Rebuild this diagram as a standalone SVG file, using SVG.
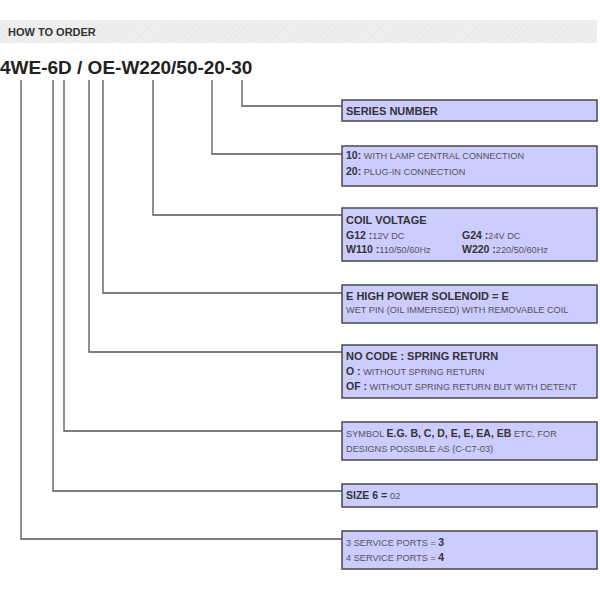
<svg xmlns="http://www.w3.org/2000/svg" width="600" height="600" viewBox="0 0 600 600">
<defs>
<pattern id="hatch" width="4" height="4" patternUnits="userSpaceOnUse" patternTransform="rotate(45)">
<rect width="4" height="4" fill="#efefef"/>
<line x1="0" y1="0" x2="0" y2="4" stroke="#e2e2e2" stroke-width="1"/>
</pattern>
</defs>
<style>
text{font-family:"Liberation Sans",Arial,sans-serif}
.box{fill:#ccccff;stroke:#4a4a4a;stroke-width:1.5}
.h{font-size:11px;font-weight:bold;fill:#333}
.b{font-weight:bold;fill:#333;font-size:10.5px}
.r{font-size:9.2px;fill:#555;font-weight:normal}
.conn{fill:none;stroke:#555;stroke-width:1.3}
</style>
<rect width="600" height="600" fill="#fff"/>
<g id="header">
<rect x="0" y="20" width="597" height="23" fill="url(#hatch)"/>
<text x="8" y="36" style="font-size:11px;font-weight:bold;fill:#333">HOW TO ORDER</text>
</g>
<g id="code">
<text x="0" y="74" style="font-size:19px;font-weight:bold;fill:#222">4WE-6D / OE-W220/50-20-30</text>
</g>
<g id="connectors" class="conn">
<path d="M242,80 V106 H342"/>
<path d="M212,80 V154 H342"/>
<path d="M153,80 V215 H342"/>
<path d="M103,80 V293 H342"/>
<path d="M89,80 V352 H342"/>
<path d="M64,80 V431 H342"/>
<path d="M53,80 V491 H342"/>
<path d="M21,80 V539 H342"/>
</g>
<g id="series">
<rect class="box" x="342" y="100" width="255" height="21"/>
<text class="h" x="346" y="115">SERIES NUMBER</text>
</g>
<g id="connection">
<rect class="box" x="342" y="146" width="255" height="40"/>
<text x="346" y="159"><tspan class="b">10:</tspan><tspan class="r"> WITH LAMP CENTRAL CONNECTION</tspan></text>
<text x="346" y="175"><tspan class="b">20:</tspan><tspan class="r"> PLUG-IN CONNECTION</tspan></text>
</g>
<g id="coil">
<rect class="box" x="342" y="208" width="255" height="53"/>
<text class="h" x="346" y="224">COIL VOLTAGE</text>
<text x="346" y="239"><tspan class="b">G12 :</tspan><tspan class="r">12V DC</tspan></text>
<text x="462" y="239"><tspan class="b">G24 :</tspan><tspan class="r">24V DC</tspan></text>
<text x="346" y="253"><tspan class="b">W110 :</tspan><tspan class="r">110/50/60Hz</tspan></text>
<text x="462" y="253"><tspan class="b">W220 :</tspan><tspan class="r">220/50/60Hz</tspan></text>
</g>
<g id="solenoid">
<rect class="box" x="342" y="285" width="255" height="38"/>
<text class="h" x="346" y="300">E HIGH POWER SOLENOID = E</text>
<text class="r" x="346" y="313">WET PIN (OIL IMMERSED) WITH REMOVABLE COIL</text>
</g>
<g id="spring">
<rect class="box" x="342" y="345" width="255" height="53"/>
<text class="h" x="346" y="360">NO CODE : SPRING RETURN</text>
<text x="346" y="375"><tspan class="b">O :</tspan><tspan class="r"> WITHOUT SPRING RETURN</tspan></text>
<text x="346" y="390"><tspan class="b">OF :</tspan><tspan class="r"> WITHOUT SPRING RETURN BUT WITH DETENT</tspan></text>
</g>
<g id="symbol">
<rect class="box" x="342" y="422" width="255" height="38"/>
<text x="346" y="437"><tspan class="r">SYMBOL </tspan><tspan class="b">E.G. B, C, D, E, E, EA, EB</tspan><tspan class="r"> ETC, FOR</tspan></text>
<text class="r" x="346" y="452">DESIGNS POSSIBLE AS (C-C7-03)</text>
</g>
<g id="size">
<rect class="box" x="342" y="484" width="255" height="23"/>
<text x="346" y="499"><tspan class="b">SIZE 6 = </tspan><tspan class="r">02</tspan></text>
</g>
<g id="ports">
<rect class="box" x="342" y="531" width="255" height="38"/>
<text x="346" y="546"><tspan class="r">3 SERVICE PORTS = </tspan><tspan class="b">3</tspan></text>
<text x="346" y="561"><tspan class="r">4 SERVICE PORTS = </tspan><tspan class="b">4</tspan></text>
</g>
</svg>
